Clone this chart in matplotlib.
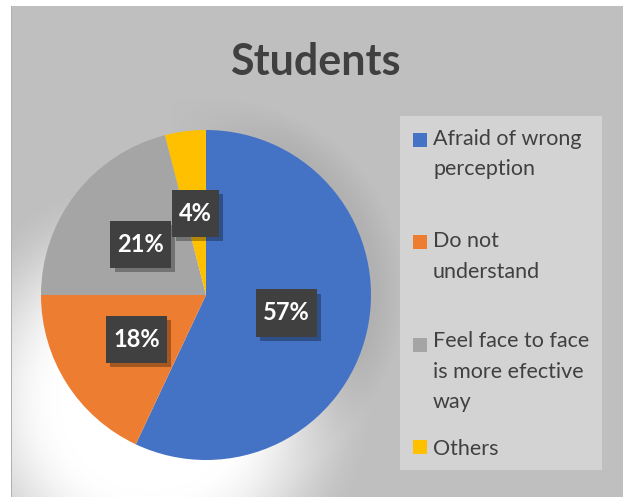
import numpy as np
import matplotlib
matplotlib.use("Agg")
import matplotlib.pyplot as plt
from matplotlib import patheffects
from matplotlib.patches import Rectangle

# survey answers (percent of students)
categories = ["Afraid of wrong\nperception", "Do not\nunderstand",
              "Feel face to face\nis more efective\nway", "Others"]
shares = [57, 18, 21, 4]
colors = ["#4472c4", "#ed7d31", "#a5a5a5", "#ffc000"]
title = "Students"

W, H = 623, 497
TEXT = "#404040"
plt.rcParams["font.family"] = ["Lato", "DejaVu Sans"]

fig = plt.figure(figsize=(W / 100, H / 100), dpi=100)

# chart background: flat grey with a soft white glow below-left of the pie
# and a faint shadow along its upper-right rim
yy, xx = np.mgrid[0:H, 0:W].astype(float)
base = 191.0
glow = np.clip((230 - np.hypot(xx - 150, yy - 400)) / 140, 0, 1)
glow = glow * glow * (3 - 2 * glow)
shade = np.clip(1 - (np.hypot(xx - 209, yy - 292) - 165) / 30, 0, 1)
shade *= np.clip((xx - 170) / 120, 0, 1)
val = base + (255 - base) * glow
val = val - 14 * shade * (1 - glow)
val[:, :11] = 255
val[:6, :] = 255
val[6:, 11] = 176
img = np.dstack([val, val, val]).clip(0, 255) / 255
bg = fig.add_axes([0, 0, 1, 1])
bg.imshow(img, extent=(0, W, H, 0), aspect="auto", interpolation="bilinear")
bg.set_xlim(0, W)
bg.set_ylim(H, 0)
bg.axis("off")

# pie
cx, cy, r = 206, 295, 165
ax = fig.add_axes([(cx - r) / W, (H - cy - r) / H, 2 * r / W, 2 * r / H])
ax.set_facecolor("none")
wedges, _, autotexts = ax.pie(shares, colors=colors, startangle=90, counterclock=False,
                              autopct="%1.0f%%", pctdistance=0.5,
                              wedgeprops=dict(linewidth=0))
ax.set_xlim(-1, 1)
ax.set_ylim(-1, 1)
for t in autotexts:
    t.set_color("white")
    t.set_fontsize(17)
    t.set_fontweight("bold")
    t.set_bbox(dict(boxstyle="square,pad=0.3", facecolor="#404040",
                    edgecolor="none", mutation_aspect=1.7))
    t.get_bbox_patch().set_path_effects([
        patheffects.withSimplePatchShadow(offset=(3, -3), shadow_rgbFace="black", alpha=0.3)])

# title
fig.text(315 / W, 1 - 75 / H, title, ha="center", va="baseline",
         fontsize=31, fontweight="bold", color=TEXT)

# legend panel
fig.patches.append(Rectangle((400 / W, 1 - 470 / H), 202 / W, 354 / H,
                             transform=fig.transFigure, facecolor="#d3d3d3",
                             edgecolor="none", zorder=3))
line_h = 27.7
for i, (lab, col) in enumerate(zip(categories, colors)):
    yc = 139.5 + i * 102.6
    fig.patches.append(Rectangle((413 / W, 1 - (yc + 7) / H), 14 / W, 14 / H,
                                 transform=fig.transFigure, facecolor=col,
                                 edgecolor="none", zorder=4))
    # baseline alignment of multi-line text refers to the last line
    n = lab.count("\n")
    fig.text(433 / W, 1 - (yc + 8 + n * line_h) / H, lab, ha="left", va="baseline",
             fontsize=15.5, color=TEXT, linespacing=1.65, zorder=5)

fig.savefig("out.png", dpi=100)
